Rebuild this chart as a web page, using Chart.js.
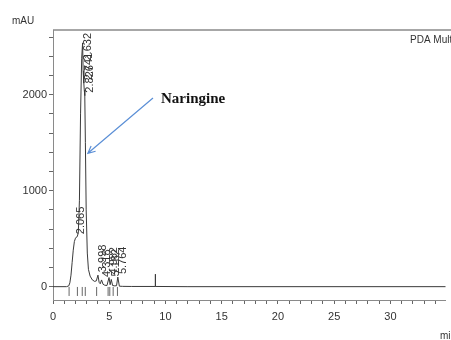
<!DOCTYPE html>
<html>
<head>
<meta charset="utf-8">
<script src="https://cdn.jsdelivr.net/npm/chart.js@4.4.0/dist/chart.umd.min.js"></script>
<style>
    body { margin: 0; background: #fff; }
    #chromChart { display: block; }
</style>
</head>
<body>
<canvas id="chromChart" width="451" height="340"></canvas>
<script>
// Chromatogram trace (time in min, signal in mAU)
const traceTimes = [0, 1.2, 1.4, 1.5, 1.6, 1.7, 1.8, 1.9, 2.0, 2.065, 2.15, 2.25, 2.35, 2.45, 2.55, 2.632, 2.68, 2.741, 2.78, 2.826, 2.88, 2.95, 3.05, 3.15, 3.3, 3.5, 3.7, 3.85, 3.998, 4.1, 4.2, 4.318, 4.45, 4.6, 4.8, 4.982, 5.08, 5.182, 5.3, 5.5, 5.65, 5.764, 5.9, 6.2, 7, 9.09, 9.1, 9.11, 12, 35];
const traceValues = [0, 0, 8, 40, 120, 250, 380, 470, 505, 515, 520, 560, 900, 1800, 2380, 2540, 2250, 2120, 2050, 1990, 1500, 800, 350, 180, 110, 70, 55, 60, 120, 45, 30, 70, 25, 15, 12, 95, 20, 75, 12, 8, 10, 100, 5, 3, 2, 2, 130, 2, 0, 0];

// Peak retention times and their apex heights
const peakTimes = [2.065, 2.632, 2.741, 2.826, 3.998, 4.318, 4.982, 5.182, 5.764];
const peakHeights = [515, 2540, 2120, 1990, 120, 70, 95, 75, 100];

// Integration start/end marks
const markTimes = [1.43, 2.17, 2.6, 2.87, 3.88, 4.9, 5.05, 5.35, 5.73];
const markLevel = -50;

// Axis ticks
const xTicks = [];
for (let t = 0; t <= 34; t++) xTicks.push(t);
const yTicks = [0, 200, 400, 600, 800, 1000, 1200, 1400, 1600, 1800, 2000, 2200, 2400, 2600];

const yUnit = 'mAU';
const xUnit = 'min';
const channelName = 'PDA Multi 1';
const compoundName = 'Naringine';

const sans = "'Liberation Sans', Arial, sans-serif";

const extras = {
    id: 'extras',
    afterDatasetsDraw(chart) {
        const ctx = chart.ctx;
        const area = chart.chartArea;
        const xs = chart.scales.x;
        const ys = chart.scales.y;
        ctx.save();

        // top frame line
        ctx.strokeStyle = '#8a8a8a';
        ctx.lineWidth = 1.5;
        ctx.beginPath();
        ctx.moveTo(area.left, area.top);
        ctx.lineTo(451, area.top);
        ctx.stroke();

        // peak labels, rotated
        ctx.fillStyle = '#333';
        ctx.font = '11px ' + sans;
        ctx.textAlign = 'left';
        ctx.textBaseline = 'middle';
        peakTimes.forEach((t, i) => {
            const txt = t.toFixed(3);
            const w = ctx.measureText(txt).width;
            const px = xs.getPixelForValue(t) + 5;
            let py = ys.getPixelForValue(peakHeights[i]) - 3;
            if (py - w < area.top + 3) py = area.top + 3 + w;
            ctx.save();
            ctx.translate(px, py);
            ctx.rotate(-Math.PI / 2);
            ctx.fillText(txt, 0, 0);
            ctx.restore();
        });

        // unit / channel texts
        ctx.fillStyle = '#333';
        ctx.font = '10px ' + sans;
        ctx.textBaseline = 'middle';
        ctx.fillText(yUnit, 12, 21);
        ctx.fillText(channelName, 410, 40);
        ctx.fillText(xUnit, 440, 336);

        // compound annotation
        ctx.fillStyle = '#111';
        ctx.font = 'bold 15px "Liberation Serif", "Times New Roman", serif';
        ctx.fillText(compoundName, 161, 99);

        const tipX = xs.getPixelForValue(3.1);
        const tipY = ys.getPixelForValue(1390);
        const startX = 153, startY = 98;
        const ang = Math.atan2(tipY - startY, tipX - startX);
        ctx.strokeStyle = '#5b8fd6';
        ctx.lineWidth = 1.2;
        ctx.beginPath();
        ctx.moveTo(startX, startY);
        ctx.lineTo(tipX, tipY);
        ctx.moveTo(tipX + 8 * Math.cos(ang + Math.PI - 0.45), tipY + 8 * Math.sin(ang + Math.PI - 0.45));
        ctx.lineTo(tipX, tipY);
        ctx.lineTo(tipX + 8 * Math.cos(ang + Math.PI + 0.45), tipY + 8 * Math.sin(ang + Math.PI + 0.45));
        ctx.stroke();

        ctx.restore();
    }
};

new Chart(document.getElementById('chromChart').getContext('2d'), {
    type: 'line',
    data: {
        datasets: [
            {
                label: 'Trace',
                data: traceTimes.map((t, i) => ({ x: t, y: traceValues[i] })),
                borderColor: '#3a3a3a',
                borderWidth: 1,
                pointRadius: 0,
                tension: 0
            },
            {
                label: 'Marks',
                data: markTimes.map(t => ({ x: t, y: markLevel })),
                showLine: false,
                pointStyle: 'line',
                rotation: 90,
                pointRadius: 4.5,
                borderColor: '#666',
                borderWidth: 1
            }
        ]
    },
    options: {
        responsive: false,
        animation: false,
        layout: { padding: { top: 30, right: 0, left: 0, bottom: 0 } },
        plugins: {
            legend: { display: false },
            tooltip: { enabled: false }
        },
        scales: {
            x: {
                type: 'linear',
                min: 0,
                max: 34.9,
                afterFit: s => { s.height = 40; },
                afterBuildTicks: s => { s.ticks = xTicks.map(v => ({ value: v })); },
                border: { color: '#8a8a8a', width: 1 },
                grid: { drawOnChartArea: false, tickLength: 4, color: '#666' },
                ticks: {
                    color: '#333',
                    padding: 6,
                    maxRotation: 0,
                    autoSkip: false,
                    font: { family: sans, size: 11 },
                    callback: v => (v % 5 === 0 ? v : '')
                }
            },
            y: {
                min: -139,
                max: 2674,
                afterFit: s => { s.width = 53; },
                afterBuildTicks: s => { s.ticks = yTicks.map(v => ({ value: v })); },
                border: { color: '#8a8a8a', width: 1 },
                grid: { drawOnChartArea: false, tickLength: 4, color: '#666' },
                ticks: {
                    color: '#333',
                    padding: 2,
                    autoSkip: false,
                    font: { family: sans, size: 11 },
                    callback: v => (v % 1000 === 0 ? v : '')
                }
            }
        }
    },
    plugins: [extras]
});
</script>
</body>
</html>
